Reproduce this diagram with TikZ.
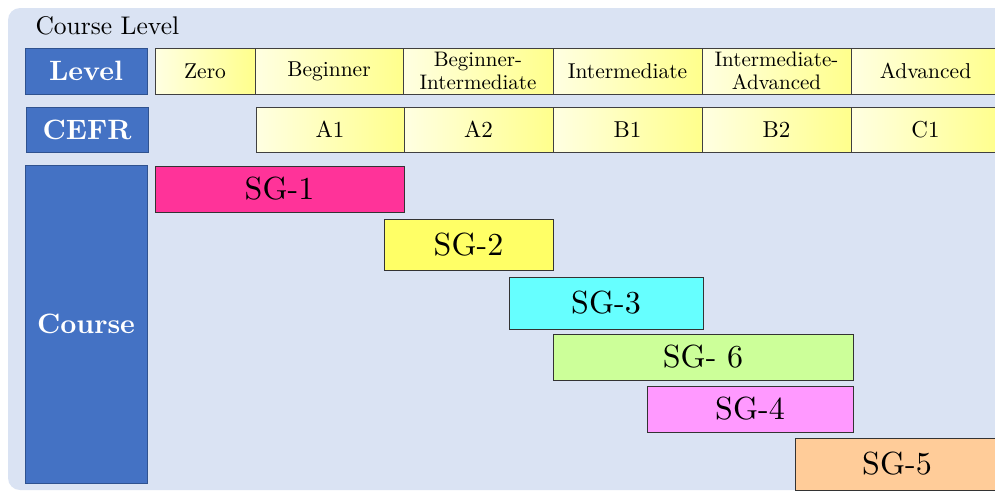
\documentclass[tikz,border=0pt]{standalone}
\usepackage{fontspec}
\setmainfont{lmroman10}[Extension=.otf, UprightFont=*-regular, BoldFont=*-bold]
\usetikzlibrary{positioning}

\definecolor{bgblue}{HTML}{DAE3F3}
\definecolor{headblue}{HTML}{4472C4}
\definecolor{headline}{HTML}{2F528F}
\definecolor{celllight}{HTML}{FFFFE2}
\definecolor{celldark}{HTML}{FFFF8C}

\tikzset{head/.style={draw=headline, line width=1pt, fill=headblue, text=white, inner sep=0pt, minimum width=122pt, font=\fontsize{28}{30}\selectfont\bfseries}}
\tikzset{cell/.style={draw=black!75, line width=0.9pt, left color=celllight, right color=celldark, inner sep=0pt, minimum height=46pt, align=center, font=\fontsize{21.5}{23}\selectfont}}
\tikzset{sgbar/.style={draw=black!80, line width=0.9pt, inner sep=0pt, font=\fontsize{32}{34}\selectfont}}
\def \cw {149}

\begin{document}
\begin{tikzpicture}[x=1pt, y=-1pt]

    \clip (0,0) rectangle (995,491);
    \fill[bgblue, rounded corners=12pt] (8,8) rectangle (1030,490);

    \node[anchor=west, font=\fontsize{25.5}{27}\selectfont] (title) at (32,26) {Course Level};

    % row headers
    \node[head, minimum height=46pt] (level) at (86,71) {Level};
    \node[head, minimum height=45pt] (cefr) at (87,129.5) {CEFR};
    \node[head, minimum height=318pt] (course) at (86,324) {Course};

    % level row
    \node[cell, minimum width=100pt] (zero) at (205,71) {Zero};
    \node[cell, minimum width=148pt] (beg) at (329,71) {Beginner};
    \node[cell, minimum width=150pt, font=\fontsize{21}{23}\selectfont] (begint) at (478,71) {Beginner-\\Intermediate};
    \node[cell, minimum width=\cw pt] (inter) at (627.5,71) {Intermediate};
    \node[cell, minimum width=\cw pt, font=\fontsize{21}{23}\selectfont] (intadv) at (776.5,71) {Intermediate-\\Advanced};
    \node[cell, minimum width=\cw pt] (adv) at (925.5,71) {Advanced};

    % CEFR row
    \node[cell, minimum width=148pt, minimum height=45pt, font=\fontsize{23}{24}\selectfont] (a1) at (330,129.5) {A1};
    \node[cell, minimum width=\cw pt, minimum height=45pt, font=\fontsize{23}{24}\selectfont] (a2) at (478.5,129.5) {A2};
    \node[cell, minimum width=\cw pt, minimum height=45pt, font=\fontsize{23}{24}\selectfont] (b1) at (627.5,129.5) {B1};
    \node[cell, minimum width=\cw pt, minimum height=45pt, font=\fontsize{23}{24}\selectfont] (b2) at (776.5,129.5) {B2};
    \node[cell, minimum width=\cw pt, minimum height=45pt, font=\fontsize{23}{24}\selectfont] (c1) at (925.5,129.5) {C1};

    % courses
    \node[sgbar, fill={rgb,255:red,255;green,51;blue,153}, minimum width=249pt, minimum height=46pt] (sg1) at (279.5,189) {SG-1};
    \node[sgbar, fill={rgb,255:red,255;green,255;blue,102}, minimum width=169pt, minimum height=51pt] (sg2) at (468.5,244.5) {SG-2};
    \node[sgbar, fill={rgb,255:red,102;green,255;blue,255}, minimum width=194pt, minimum height=52pt] (sg3) at (606,303) {SG-3};
    \node[sgbar, fill={rgb,255:red,204;green,255;blue,153}, minimum width=300pt, minimum height=46pt] (sg6) at (703,357) {SG- 6};
    \node[sgbar, fill={rgb,255:red,255;green,153;blue,255}, minimum width=206pt, minimum height=46pt] (sg4) at (750,409) {SG-4};
    \node[sgbar, fill={rgb,255:red,255;green,204;blue,153}, minimum width=204pt, minimum height=52pt] (sg5) at (897,464) {SG-5};

\end{tikzpicture}
\end{document}
